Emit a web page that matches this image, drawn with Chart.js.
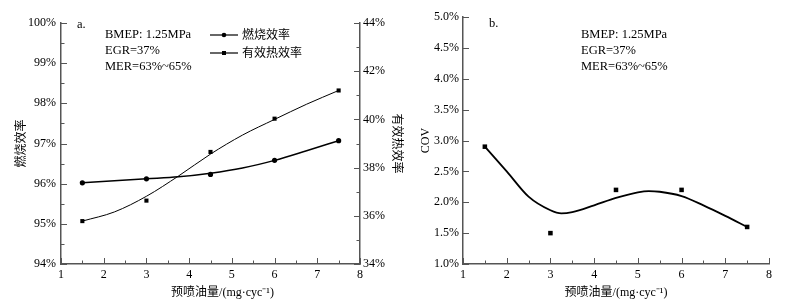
<!DOCTYPE html>
<html>
<head>
<meta charset="utf-8">
<script src="https://cdn.jsdelivr.net/npm/chart.js@4/dist/chart.umd.min.js"></script>
<style>
  body { margin: 0; background: #fff; }
  canvas { position: absolute; top: 0; }
  #chartA { left: 0; }
  #chartB { left: 400px; }
</style>
</head>
<body>
<canvas id="chartA" width="410" height="308"></canvas>
<canvas id="chartB" width="402" height="308"></canvas>
<script>
// pre-injection quantity, mg/cyc
const injection = [1.5, 3, 4.5, 6, 7.5];

// panel a: measured points
const combEff = [96.02, 96.12, 96.23, 96.58, 97.07];   // 燃烧效率 %
const thermEff = [35.78, 36.63, 38.65, 40.03, 41.2];   // 有效热效率 %

// panel a: fitted curves
const fitXa = [1.5, 2.25, 3, 3.75, 4.5, 5.25, 6, 6.75, 7.5];
const combFit = [96.02, 96.07, 96.12, 96.17, 96.26, 96.39, 96.58, 96.82, 97.07];
const thermFit = [35.78, 36.16, 36.81, 37.65, 38.56, 39.35, 40.0, 40.63, 41.2];

// panel b: COV points and fitted curve
const cov = [2.9, 1.5, 2.2, 2.2, 1.6];
const fitXb = [1.5, 2, 2.5, 3, 3.25, 3.5, 4, 4.5, 5, 5.25, 5.5, 6, 6.5, 7, 7.5];
const covFit = [2.9, 2.5, 2.09, 1.87, 1.82, 1.84, 1.95, 2.07, 2.16, 2.18, 2.17, 2.1, 1.95, 1.78, 1.6];

const seriesNames = ['燃烧效率', '有效热效率'];
const xTitle = '预喷油量/(mg·cyc⁻¹)';
const conditions = ['BMEP: 1.25MPa', 'EGR=37%', 'MER=63%~65%'];

const SERIF = '"Liberation Serif", "Times New Roman", "Noto Sans CJK SC", serif';
Chart.defaults.font.family = SERIF;
Chart.defaults.font.size = 12;
Chart.defaults.color = '#000';

const axisColor = '#555';

// zip x and y arrays into points
function pts(xs, ys) {
  return xs.map((x, i) => ({ x: x, y: ys[i] }));
}

// tick marks that point into the plot area
const innerTicks = {
  id: 'innerTicks',
  afterDraw(chart, args, opts) {
    const ctx = chart.ctx;
    ctx.save();
    ctx.strokeStyle = axisColor;
    ctx.lineWidth = 1;
    for (const t of opts.axes) {
      const scale = chart.scales[t.id];
      const n = Math.round((scale.max - scale.min) / t.minor);
      for (let i = 0; i <= n; i++) {
        const v = scale.min + i * t.minor;
        const isMajor = Math.abs(Math.round(v / t.major) * t.major - v) < 1e-6;
        const len = isMajor ? 6 : 3.5;
        const p = Math.round(scale.getPixelForValue(v)) + 0.5;
        ctx.beginPath();
        if (scale.isHorizontal()) {
          ctx.moveTo(p, scale.top);
          ctx.lineTo(p, scale.top - len);
        } else if (scale.position === 'left') {
          ctx.moveTo(scale.right, p);
          ctx.lineTo(scale.right + len, p);
        } else {
          ctx.moveTo(scale.left, p);
          ctx.lineTo(scale.left - len, p);
        }
        ctx.stroke();
      }
    }
    ctx.restore();
  }
};

// free text in the plot (panel letter and test conditions)
const notes = {
  id: 'notes',
  afterDraw(chart, args, opts) {
    const ctx = chart.ctx;
    ctx.save();
    ctx.fillStyle = '#000';
    ctx.font = '12.5px ' + SERIF;
    ctx.textBaseline = 'alphabetic';
    ctx.fillText(opts.panel, opts.panelX, opts.panelY);
    opts.lines.forEach((s, i) => {
      ctx.fillText(s, opts.x, opts.y + i * 16);
    });
    ctx.restore();
  }
};

// legend with the marker sitting on a short line
const lineLegend = {
  id: 'lineLegend',
  afterDraw(chart, args, opts) {
    const ctx = chart.ctx;
    ctx.save();
    opts.items.forEach((it, i) => {
      const y = opts.y + i * 18;
      ctx.strokeStyle = '#000';
      ctx.lineWidth = 1.2;
      ctx.beginPath();
      ctx.moveTo(opts.x, y);
      ctx.lineTo(opts.x + 28, y);
      ctx.stroke();
      ctx.fillStyle = '#000';
      if (it.style === 'circle') {
        ctx.beginPath();
        ctx.arc(opts.x + 14, y, 2.3, 0, Math.PI * 2);
        ctx.fill();
      } else {
        ctx.fillRect(opts.x + 12, y - 2, 4, 4);
      }
      ctx.font = '12px ' + SERIF;
      ctx.textBaseline = 'middle';
      ctx.fillText(it.text, opts.x + 32, y + 1);
    });
    ctx.restore();
  }
};

function xAxis(title, fitHeight) {
  return {
    type: 'linear',
    min: 1, max: 8,
    grid: { display: false, drawTicks: false, tickLength: 0 },
    border: { display: true, color: axisColor, width: 1.5 },
    ticks: { stepSize: 1, padding: 4, maxRotation: 0, autoSkip: false },
    title: { display: true, text: title, font: { size: 12 }, padding: 8 },
    afterFit(scale) { scale.height = fitHeight; }
  };
}

// ---- panel a ----
new Chart(document.getElementById('chartA'), {
  type: 'line',
  data: {
    datasets: [
      {
        label: seriesNames[0] + ' fit',
        data: pts(fitXa, combFit),
        yAxisID: 'y',
        borderColor: '#000', borderWidth: 1.5,
        pointRadius: 0, cubicInterpolationMode: 'monotone'
      },
      {
        label: seriesNames[1] + ' fit',
        data: pts(fitXa, thermFit),
        yAxisID: 'y2',
        borderColor: '#000', borderWidth: 1,
        pointRadius: 0, cubicInterpolationMode: 'monotone'
      },
      {
        label: seriesNames[0],
        data: pts(injection, combEff),
        yAxisID: 'y',
        showLine: false,
        pointStyle: 'circle', pointRadius: 2.6,
        backgroundColor: '#000', borderColor: '#000', borderWidth: 0
      },
      {
        label: seriesNames[1],
        data: pts(injection, thermEff),
        yAxisID: 'y2',
        showLine: false,
        pointStyle: 'rect', pointRadius: 2.9,
        backgroundColor: '#000', borderColor: '#000', borderWidth: 0
      }
    ]
  },
  options: {
    responsive: false,
    animation: false,
    devicePixelRatio: 1,
    layout: { padding: { top: 23, left: 0, right: 0, bottom: 0 } },
    plugins: {
      legend: { display: false },
      tooltip: { enabled: false },
      innerTicks: {
        axes: [
          { id: 'x', minor: 0.5, major: 1 },
          { id: 'y', minor: 0.5, major: 1 },
          { id: 'y2', minor: 1, major: 2 }
        ]
      },
      notes: { panel: 'a.', panelX: 77, panelY: 28, lines: conditions, x: 105, y: 38 },
      lineLegend: {
        x: 210, y: 35,
        items: [
          { text: seriesNames[0], style: 'circle' },
          { text: seriesNames[1], style: 'rect' }
        ]
      }
    },
    scales: {
      x: xAxis('        ' + xTitle, 44),
      y: {
        position: 'left',
        min: 94, max: 100,
        grid: { display: false, drawTicks: false, tickLength: 0 },
        border: { display: true, color: axisColor, width: 1.5 },
        ticks: { stepSize: 1, padding: 5, callback: v => v + '%' },
        title: { display: true, text: seriesNames[0], font: { size: 12 }, padding: 15 },
        afterFit(scale) { scale.width = 61; }
      },
      y2: {
        position: 'right',
        min: 34, max: 44,
        grid: { display: false, drawTicks: false, tickLength: 0 },
        border: { display: true, color: axisColor, width: 1.5 },
        ticks: { stepSize: 2, padding: 3, callback: v => v + '%' },
        title: { display: true, text: seriesNames[1], font: { size: 12 }, padding: 7 },
        afterFit(scale) { scale.width = 50; }
      }
    }
  },
  plugins: [innerTicks, notes, lineLegend]
});

// ---- panel b ----
new Chart(document.getElementById('chartB'), {
  type: 'line',
  data: {
    datasets: [
      {
        label: 'COV fit',
        data: pts(fitXb, covFit),
        borderColor: '#000', borderWidth: 1.8,
        pointRadius: 0, cubicInterpolationMode: 'monotone'
      },
      {
        label: 'COV',
        data: pts(injection, cov),
        showLine: false,
        pointStyle: 'rect', pointRadius: 3.2,
        backgroundColor: '#000', borderColor: '#000', borderWidth: 0
      }
    ]
  },
  options: {
    responsive: false,
    animation: false,
    devicePixelRatio: 1,
    layout: { padding: { top: 17, left: 0, right: 33, bottom: 0 } },
    plugins: {
      legend: { display: false },
      tooltip: { enabled: false },
      innerTicks: {
        axes: [
          { id: 'x', minor: 0.5, major: 1 },
          { id: 'y', minor: 0.5, major: 0.5 }
        ]
      },
      notes: { panel: 'b.', panelX: 89, panelY: 27, lines: conditions, x: 181, y: 38 }
    },
    scales: {
      x: xAxis(xTitle, 44),
      y: {
        position: 'left',
        min: 1, max: 5,
        grid: { display: false, drawTicks: false, tickLength: 0 },
        border: { display: true, color: axisColor, width: 1.5 },
        ticks: { stepSize: 0.5, padding: 4, callback: v => v.toFixed(1) + '%' },
        title: { display: true, text: 'COV', font: { size: 12 }, padding: 19 },
        afterFit(scale) { scale.width = 63; }
      }
    }
  },
  plugins: [innerTicks, notes]
});
</script>
</body>
</html>
